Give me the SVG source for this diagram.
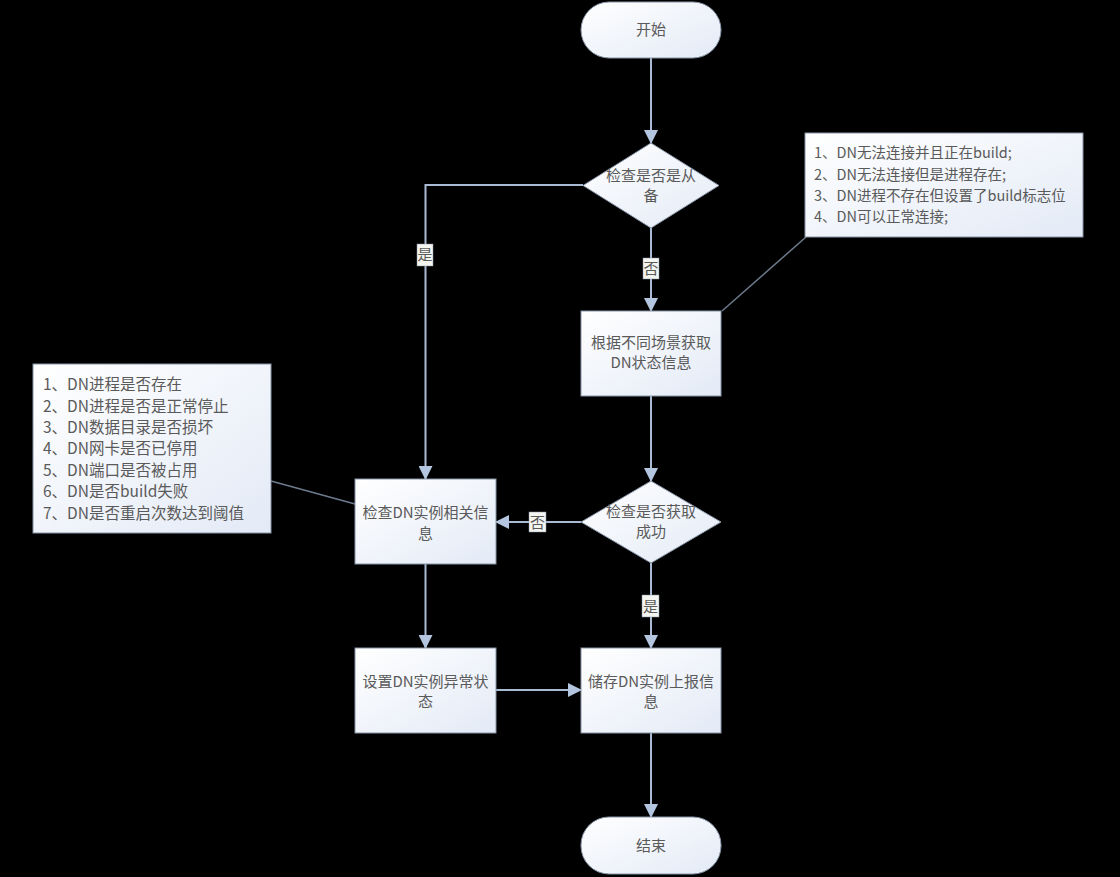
<svg xmlns="http://www.w3.org/2000/svg" width="1120" height="877" viewBox="0 0 1120 877">
<defs>
<linearGradient id="g" x1="0" y1="0" x2="1" y2="1">
<stop offset="0" stop-color="#ffffff"/>
<stop offset="1" stop-color="#e3eaf6"/>
</linearGradient>
<marker id="ah" viewBox="0 0 14 14" refX="13" refY="7" markerWidth="14" markerHeight="14" markerUnits="userSpaceOnUse" orient="auto">
<path d="M0,0 L14,7 L0,14 Z" fill="#b3c5df"/>
</marker>
<style>
.n{fill:url(#g);stroke:#8794a6;stroke-width:1}
.t{font-family:"Noto Sans CJK SC","Noto Sans",sans-serif;font-size:15px;fill:#5a5a5a;text-anchor:middle}
.nt{font-family:"Noto Sans CJK SC","Noto Sans",sans-serif;font-size:14.5px;fill:#5a5a5a}
.nt2{font-family:"Noto Sans CJK SC","Noto Sans",sans-serif;font-size:15.5px;fill:#5a5a5a}
.c{fill:none;stroke:#a9bbd4;stroke-width:2;marker-end:url(#ah)}
.cl{fill:none;stroke:#6d7b8d;stroke-width:1.5}
.lb{fill:#f4f4f0;stroke:#8794a6;stroke-width:0.5}
</style>
</defs>
<rect width="1120" height="877" fill="#000"/>
<g id="connectors">
<path class="c" d="M651,58 V143"/>
<path class="c" d="M583,185 H425.5 V479"/>
<path class="c" d="M651,228 V311"/>
<path class="c" d="M651,396 V481"/>
<path class="c" d="M581,522 H496"/>
<path class="c" d="M651,563 V648"/>
<path class="c" d="M425.5,564 V648"/>
<path class="c" d="M496,690 H581"/>
<path class="c" d="M651,733 V817"/>
<path class="cl" d="M722,311 L806,237"/>
<path class="cl" d="M271,481 L355,504"/>
<rect class="lb" x="417" y="244" width="16" height="22"/>
<text class="t" x="425" y="260">是</text>
<rect class="lb" x="643" y="258" width="16" height="21"/>
<text class="t" x="651" y="274">否</text>
<rect class="lb" x="529" y="512" width="17" height="20"/>
<text class="t" x="537.5" y="527.5">否</text>
<rect class="lb" x="642" y="595" width="17" height="22"/>
<text class="t" x="650.5" y="611.5">是</text>
</g>
<g id="start">
<rect class="n" x="581" y="2" width="140" height="56" rx="28"/>
<text class="t" x="651" y="35">开始</text>
</g>
<g id="d1">
<polygon class="n" points="651,143 719,185.5 651,228 583,185.5"/>
<text class="t" x="651" y="181">检查是否是从</text>
<text class="t" x="651" y="201">备</text>
</g>
<g id="note1">
<rect class="n" x="805" y="133" width="278" height="104"/>
<text class="nt" x="814" y="158">1、DN无法连接并且正在build;</text>
<text class="nt" x="814" y="180">2、DN无法连接但是进程存在;</text>
<text class="nt" x="814" y="201">3、DN进程不存在但设置了build标志位</text>
<text class="nt" x="814" y="222">4、DN可以正常连接;</text>
</g>
<g id="p1">
<rect class="n" x="581" y="311" width="140" height="85"/>
<text class="t" x="651" y="348">根据不同场景获取</text>
<text class="t" x="651" y="368">DN状态信息</text>
</g>
<g id="d2">
<polygon class="n" points="651,481 721,522 651,563 581,522"/>
<text class="t" x="651" y="517">检查是否获取</text>
<text class="t" x="651" y="537">成功</text>
</g>
<g id="note2">
<rect class="n" x="33" y="364" width="238" height="169"/>
<text class="nt2" x="43" y="390">1、DN进程是否存在</text>
<text class="nt2" x="43" y="412">2、DN进程是否是正常停止</text>
<text class="nt2" x="43" y="433">3、DN数据目录是否损坏</text>
<text class="nt2" x="43" y="454">4、DN网卡是否已停用</text>
<text class="nt2" x="43" y="476">5、DN端口是否被占用</text>
<text class="nt2" x="43" y="497">6、DN是否build失败</text>
<text class="nt2" x="43" y="519">7、DN是否重启次数达到阈值</text>
</g>
<g id="check">
<rect class="n" x="355" y="479" width="141" height="85"/>
<text class="t" x="425.5" y="518">检查DN实例相关信</text>
<text class="t" x="425.5" y="539">息</text>
</g>
<g id="set">
<rect class="n" x="355" y="648" width="141" height="85"/>
<text class="t" x="425.5" y="687">设置DN实例异常状</text>
<text class="t" x="425.5" y="707">态</text>
</g>
<g id="store">
<rect class="n" x="581" y="648" width="140" height="85"/>
<text class="t" x="651" y="687">储存DN实例上报信</text>
<text class="t" x="651" y="707">息</text>
</g>
<g id="end">
<rect class="n" x="581" y="817" width="140" height="57" rx="28"/>
<text class="t" x="651" y="851">结束</text>
</g>
</svg>
